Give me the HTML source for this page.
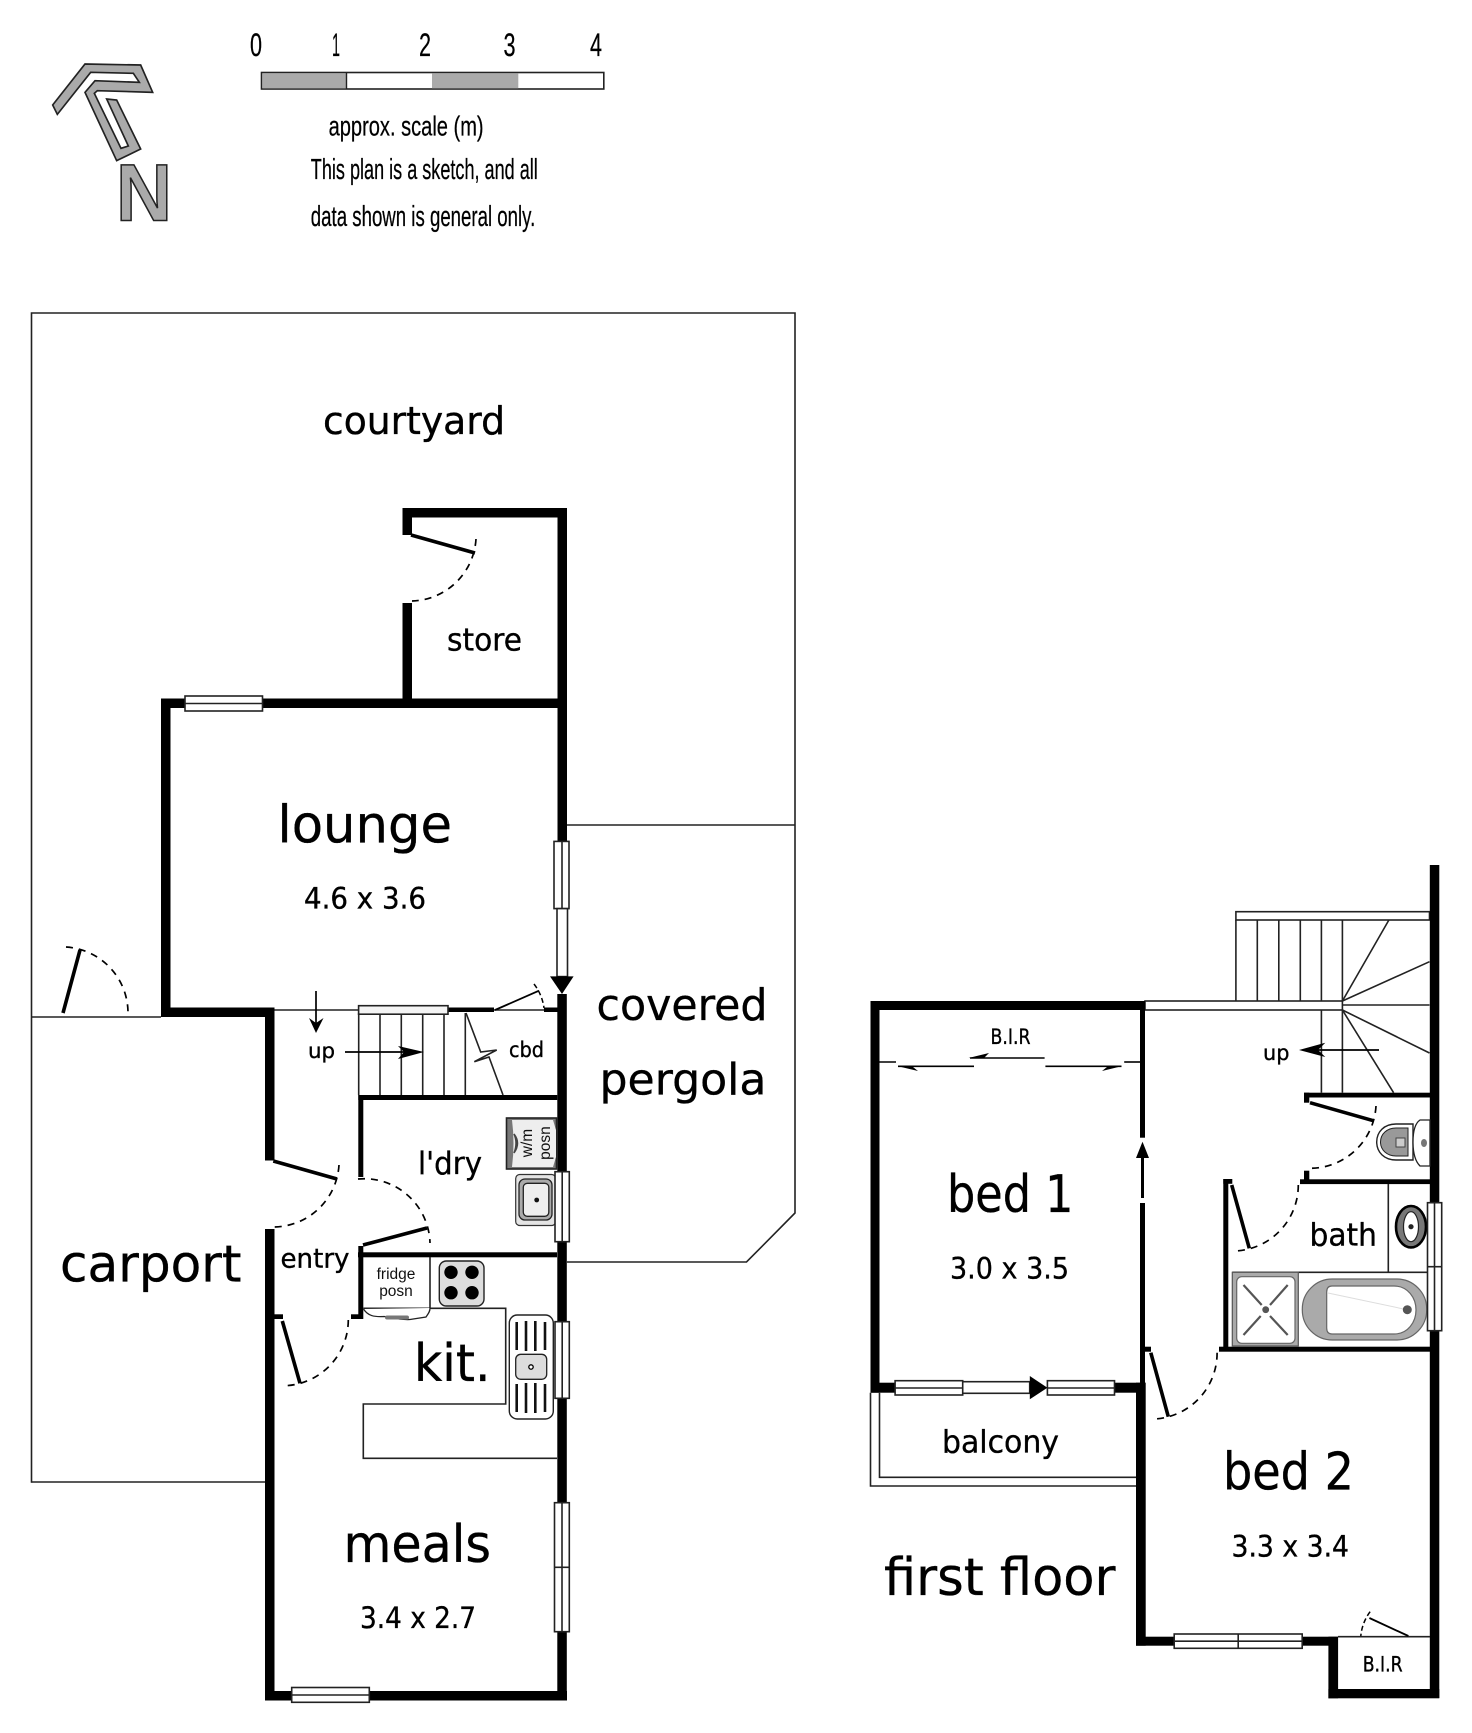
<!DOCTYPE html>
<html lang="en">
<head>
<meta charset="utf-8">
<title>Floor plan</title>
<style>
html,body{margin:0;padding:0;background:#fff;width:1472px;height:1733px;overflow:hidden}
svg{display:block}
.t{font-family:"DejaVu Sans","Liberation Sans",sans-serif;fill:#000;stroke:#000;stroke-width:.35}
.c{font-family:"Liberation Sans",sans-serif;fill:#000;stroke:#000;stroke-width:.25}
.f{font-family:"Liberation Sans",sans-serif;fill:#111}
.l{stroke:#222;stroke-width:1.6;fill:none}
.w{fill:#fff;stroke:#222;stroke-width:1.6}
.d{stroke:#000;stroke-width:1.7;fill:none;stroke-dasharray:7 6}
.leaf{stroke:#000;stroke-width:3.6;fill:none}
</style>
</head>
<body>
<svg xmlns="http://www.w3.org/2000/svg" width="1472" height="1733" viewBox="0 0 1472 1733">
<rect width="1472" height="1733" fill="#fff"/>

<!-- north -->
<g transform="translate(40,50) scale(.33333)">
<polygon points="38,165 135,42 302,45 338,127 172,122 163,130 243,295 265,288 200,147 230,150 302,297 230,332 135,127 165,92 298,97 280,70 152,67 52,193" fill="#aaa" stroke="#222" stroke-width="5" stroke-linejoin="miter"/>
</g>
<text x="116" y="220.5" font-family="Liberation Sans,sans-serif" font-weight="bold" font-size="81" textLength="56" lengthAdjust="spacingAndGlyphs" fill="#aaa" stroke="#222" stroke-width="1.6">N</text>

<!-- scale -->
<rect x="261.5" y="72.5" width="342.3" height="16.5" fill="#fff" stroke="#222" stroke-width="1.6"/>
<rect x="262.3" y="73.3" width="84.2" height="15" fill="#aaa"/>
<rect x="432" y="73.3" width="86.3" height="15" fill="#aaa"/>
<line x1="346.5" y1="72.5" x2="346.5" y2="89" stroke="#222" stroke-width="1.4"/>
<text class="c" x="250" y="56" font-size="32" textLength="12" lengthAdjust="spacingAndGlyphs">0</text>
<text class="c" x="332" y="56" font-size="32" textLength="8" lengthAdjust="spacingAndGlyphs">1</text>
<text class="c" x="419" y="56" font-size="32" textLength="12" lengthAdjust="spacingAndGlyphs">2</text>
<text class="c" x="503.5" y="56" font-size="32" textLength="12" lengthAdjust="spacingAndGlyphs">3</text>
<text class="c" x="590" y="56" font-size="32" textLength="12" lengthAdjust="spacingAndGlyphs">4</text>
<text class="c" x="328.6" y="135.5" font-size="28" textLength="155" lengthAdjust="spacingAndGlyphs">approx. scale (m)</text>
<text class="c" x="310.8" y="179" font-size="29" textLength="227" lengthAdjust="spacingAndGlyphs">This plan is a sketch, and all</text>
<text class="c" x="310.8" y="226" font-size="29" textLength="224.5" lengthAdjust="spacingAndGlyphs">data shown is general only.</text>

<!-- site outlines -->
<polyline class="l" points="31.5,1482.8 31.5,313 795,313 795,1213 746.5,1262 567,1262"/>
<line class="l" x1="567" y1="825" x2="795" y2="825"/>
<line class="l" x1="31.5" y1="1017" x2="161" y2="1017"/>
<line class="l" x1="31.5" y1="1482" x2="265" y2="1482"/>

<!-- ground floor walls -->
<g fill="#000">
<rect x="402.5" y="508" width="164.5" height="9.5"/>
<rect x="402.5" y="508" width="9.5" height="27"/>
<rect x="402.5" y="603" width="9.5" height="97"/>
<rect x="557.5" y="508" width="9.5" height="333"/>
<rect x="161" y="698.5" width="406" height="9.5"/>
<rect x="161" y="698.5" width="9.5" height="318.5"/>
<rect x="161" y="1007.5" width="113.5" height="9.5"/>
<rect x="265" y="1007.5" width="9.5" height="153"/>
<rect x="265" y="1229" width="9.5" height="471"/>
<rect x="265" y="1691" width="302" height="9.5"/>
<rect x="557.3" y="994" width="9.5" height="706"/>
<rect x="358.3" y="1095" width="199" height="5"/>
<rect x="358.3" y="1095" width="5" height="82"/>
<rect x="358" y="1252.3" width="199" height="5"/>
<rect x="358.3" y="1246" width="5" height="73"/>
<rect x="351" y="1314.3" width="12" height="4.7"/>
<rect x="274" y="1314.3" width="9" height="4.7"/>
<rect x="448" y="1007.5" width="46" height="4.5"/>
<rect x="544" y="1007.5" width="14" height="4.5"/>
</g>

<!-- ground floor thin lines -->
<line class="l" x1="274.5" y1="1010" x2="359" y2="1010"/>
<line class="l" x1="494" y1="1010" x2="544" y2="1010"/>
<g class="l">
<line x1="358.7" y1="1013" x2="358.7" y2="1095"/>
<line x1="380" y1="1013" x2="380" y2="1095"/>
<line x1="401.3" y1="1013" x2="401.3" y2="1095"/>
<line x1="422.7" y1="1013" x2="422.7" y2="1095"/>
<line x1="444" y1="1013" x2="444" y2="1095"/>
<line x1="465.3" y1="1013" x2="465.3" y2="1095"/>
</g>
<polyline class="l" points="466,1013 480.7,1052 496.7,1050 474.3,1061.7 489,1057 503,1095"/>

<!-- kitchen -->
<polyline class="l" points="363.3,1308.3 505.7,1308.3 505.7,1404 363.3,1404 363.3,1458.3 557,1458.3"/>
<line class="l" x1="430" y1="1257" x2="430" y2="1308"/>
<path d="M363.5,1309 C368,1316 374,1317 384,1316.5 C392,1317 396,1320 410,1319.5 L426,1317 C428,1314 430,1312 430,1308" fill="#fff" stroke="#222" stroke-width="1.3"/>
<rect x="385" y="1315.5" width="24" height="4" rx="2" fill="#777"/>
<rect x="439.3" y="1261" width="44.7" height="45" rx="7" fill="#ddd" stroke="#222" stroke-width="1.4"/>
<g fill="#000">
<circle cx="451" cy="1272.3" r="6.7"/><circle cx="472" cy="1272.3" r="6.7"/>
<circle cx="451" cy="1292.7" r="6.7"/><circle cx="472" cy="1292.7" r="6.7"/>
</g>
<rect x="509.3" y="1315" width="44" height="104" rx="8" fill="#fff" stroke="#222" stroke-width="1.4"/>
<g stroke="#111" stroke-width="2.6">
<line x1="516.7" y1="1322" x2="516.7" y2="1350"/><line x1="526" y1="1321" x2="526" y2="1351"/><line x1="535.3" y1="1321" x2="535.3" y2="1351"/><line x1="545" y1="1322" x2="545" y2="1350"/>
<line x1="516.7" y1="1384" x2="516.7" y2="1412"/><line x1="526" y1="1383" x2="526" y2="1413"/><line x1="535.3" y1="1383" x2="535.3" y2="1413"/><line x1="545" y1="1384" x2="545" y2="1412"/>
</g>
<rect x="515.7" y="1354.3" width="31" height="25" rx="5" fill="#ddd" stroke="#222" stroke-width="1.3"/>
<circle cx="531" cy="1367" r="2.2" fill="#fff" stroke="#000" stroke-width="1.3"/>

<!-- washing machine -->
<rect x="506.5" y="1118" width="50" height="51" fill="#777" stroke="#222" stroke-width="1.6"/>
<path d="M512,1120 H553 L556,1130 V1157 L553,1167 H512 Q515,1143 512,1120Z" fill="#eee"/>
<path d="M514,1134 Q521,1143 514,1153 Q518,1143 514,1134Z" fill="#666" stroke="#444" stroke-width="1.5"/>
<text class="f" font-size="15.5" text-anchor="middle" transform="translate(532,1143) rotate(-90)">w/m</text>
<text class="f" font-size="15.5" text-anchor="middle" transform="translate(550,1143) rotate(-90)">posn</text>

<!-- laundry sink -->
<rect x="515.7" y="1174.5" width="40" height="51" rx="4" fill="#e4e4e4" stroke="#333" stroke-width="1.2"/>
<rect x="519" y="1179" width="33" height="41" rx="6" fill="#aaa" stroke="#222" stroke-width="1.3"/>
<rect x="523.3" y="1183.3" width="25.5" height="33" rx="4" fill="#eee" stroke="#222" stroke-width="1.3"/>
<circle cx="536.7" cy="1200" r="2.4" fill="#111"/>

<!-- ground windows -->
<rect class="w" x="185" y="696" width="77.5" height="15"/><line class="l" x1="185" y1="703.5" x2="262.5" y2="703.5"/>
<rect class="w" x="554" y="841.4" width="15" height="67.2"/><line class="l" x1="562" y1="841.4" x2="562" y2="908.6"/>
<rect class="w" x="557" y="908.6" width="10.5" height="68"/>
<polygon points="550,976.4 573.6,976.4 562,994" fill="#000"/>
<rect class="w" x="358.6" y="1005.7" width="89.4" height="8.5" style="fill:#f4f4f4"/>
<rect class="w" x="555" y="1171.7" width="14.3" height="70"/><line class="l" x1="562.2" y1="1171.7" x2="562.2" y2="1241.7"/>
<rect class="w" x="555" y="1321.7" width="14.3" height="76.6"/><line class="l" x1="562.2" y1="1321.7" x2="562.2" y2="1398.3"/>
<rect class="w" x="554.5" y="1502.7" width="14.8" height="129"/><line class="l" x1="562" y1="1502.7" x2="562" y2="1631.7"/><line class="l" x1="554.5" y1="1567.3" x2="569.3" y2="1567.3"/>
<rect class="w" x="291.7" y="1687.5" width="77.6" height="14.8"/><line class="l" x1="291.7" y1="1695" x2="369.3" y2="1695"/>

<!-- ground doors -->
<line class="leaf" x1="411" y1="535" x2="475" y2="553"/>
<path class="d" d="M476,539 A66,66 0 0 1 412,601"/>
<line class="leaf" x1="63" y1="1013" x2="80" y2="950"/>
<path class="d" d="M66,947 A66,66 0 0 1 128,1013"/>
<line class="leaf" x1="273.3" y1="1161" x2="337" y2="1179"/>
<path class="d" d="M339,1165 A66,66 0 0 1 273,1227"/>
<line class="leaf" x1="363" y1="1245" x2="427" y2="1228"/>
<path class="d" d="M358,1179 A66,66 0 0 1 430,1243"/>
<line class="leaf" x1="282.3" y1="1321" x2="300" y2="1383.3"/>
<path class="d" d="M348.3,1320 A66,66 0 0 1 286,1385.7"/>
<line x1="495" y1="1010" x2="539" y2="990.7" stroke="#000" stroke-width="1.8"/>
<path d="M534,984 A50,50 0 0 1 544,1008" fill="none" stroke="#000" stroke-width="1.5" stroke-dasharray="5 3"/>

<!-- ground arrows -->
<line x1="316" y1="991" x2="316" y2="1025" stroke="#000" stroke-width="1.7"/>
<polygon points="309,1018 316,1023 323.5,1018 316,1033" fill="#000"/>
<line x1="345" y1="1052" x2="420" y2="1052" stroke="#000" stroke-width="1.7"/>
<polygon points="398,1046 424,1052 398,1059 404,1052" fill="#000"/>

<!-- ground labels -->
<text class="t" x="323" y="434" font-size="38" textLength="182" lengthAdjust="spacingAndGlyphs">courtyard</text>
<text class="t" x="447" y="650.5" font-size="31" textLength="75" lengthAdjust="spacingAndGlyphs">store</text>
<text class="t" x="277.5" y="842.5" font-size="52" textLength="174.5" lengthAdjust="spacingAndGlyphs">lounge</text>
<text class="t" x="304" y="908.5" font-size="29" textLength="122" lengthAdjust="spacingAndGlyphs">4.6 x 3.6</text>
<text class="t" x="596.5" y="1020" font-size="44" textLength="171" lengthAdjust="spacingAndGlyphs">covered</text>
<text class="t" x="599.5" y="1094.6" font-size="44" textLength="167" lengthAdjust="spacingAndGlyphs">pergola</text>
<text class="t" x="308" y="1058" font-size="21" textLength="27" lengthAdjust="spacingAndGlyphs">up</text>
<text class="t" x="509" y="1057" font-size="21" textLength="35" lengthAdjust="spacingAndGlyphs">cbd</text>
<text class="t" x="418" y="1174" font-size="31" textLength="64" lengthAdjust="spacingAndGlyphs">l'dry</text>
<text class="t" x="60" y="1281.7" font-size="51" textLength="181.5" lengthAdjust="spacingAndGlyphs">carport</text>
<text class="t" x="280.5" y="1267.3" font-size="27" textLength="69" lengthAdjust="spacingAndGlyphs">entry</text>
<text class="t" x="414" y="1381" font-size="52" textLength="76.5" lengthAdjust="spacingAndGlyphs">kit.</text>
<text class="f" x="396" y="1279" font-size="15.5" text-anchor="middle">fridge</text>
<text class="f" x="396" y="1296" font-size="15.5" text-anchor="middle">posn</text>
<text class="t" x="343.5" y="1562" font-size="52" textLength="147.5" lengthAdjust="spacingAndGlyphs">meals</text>
<text class="t" x="360" y="1628" font-size="29" textLength="116" lengthAdjust="spacingAndGlyphs">3.4 x 2.7</text>

<!-- first floor stairs -->
<rect class="w" x="1235.9" y="911.7" width="193.6" height="8.3"/>
<g class="l">
<line x1="1235.9" y1="920" x2="1235.9" y2="1001"/>
<line x1="1257.3" y1="920" x2="1257.3" y2="1001"/>
<line x1="1278.8" y1="920" x2="1278.8" y2="1001"/>
<line x1="1300.3" y1="920" x2="1300.3" y2="1001"/>
<line x1="1321.4" y1="920" x2="1321.4" y2="1001"/>
<line x1="1342.4" y1="920" x2="1342.4" y2="1001"/>
<line x1="1342.4" y1="1001" x2="1388.9" y2="920"/>
<line x1="1342.4" y1="1001" x2="1429.5" y2="961.7"/>
<line x1="1342.4" y1="1005" x2="1429.5" y2="1005"/>
<line x1="1342.4" y1="1010" x2="1429.5" y2="1053"/>
<line x1="1342.4" y1="1010" x2="1393.6" y2="1092.7"/>
<line x1="1321.4" y1="1010" x2="1321.4" y2="1092.7"/>
<line x1="1342.4" y1="1010" x2="1342.4" y2="1092.7"/>
</g>
<rect class="w" x="1145" y="1001" width="197.4" height="9"/>

<!-- first floor walls -->
<g fill="#000">
<rect x="1429.8" y="865" width="9.5" height="833"/>
<rect x="870.5" y="1001" width="274.5" height="9"/>
<rect x="870.5" y="1001" width="9" height="391.7"/>
<rect x="1140" y="1001" width="5" height="136.7"/>
<rect x="1140" y="1203" width="5" height="180"/>
<rect x="870.5" y="1382.7" width="25" height="10"/>
<rect x="1114.5" y="1382.7" width="31" height="10"/>
<rect x="1136" y="1382.7" width="9.7" height="263"/>
<rect x="1136" y="1636.7" width="202" height="9"/>
<rect x="1328.4" y="1636.7" width="9.7" height="61.6"/>
<rect x="1328.4" y="1689" width="110.9" height="9.3"/>
<rect x="1304" y="1092.7" width="126" height="4.8"/>
<rect x="1304" y="1092.7" width="5.3" height="10"/>
<rect x="1304" y="1170.7" width="5.3" height="9"/>
<rect x="1300" y="1179.3" width="130" height="4.8"/>
<rect x="1223.3" y="1179" width="5" height="170"/>
<rect x="1223.3" y="1179" width="9" height="4.8"/>
<rect x="1219" y="1346.7" width="211" height="5"/>
<rect x="1145" y="1346.7" width="6" height="5"/>
</g>
<line class="l" x1="1338" y1="1636.7" x2="1430" y2="1636.7"/>
<line class="l" x1="1388.3" y1="1184" x2="1388.3" y2="1272.3"/>
<line class="l" x1="1232.3" y1="1272.3" x2="1428" y2="1272.3"/>
<line x1="1142.5" y1="1158" x2="1142.5" y2="1198" stroke="#000" stroke-width="3"/>
<polygon points="1142.5,1141.7 1149,1158 1136,1158" fill="#000"/>

<!-- wardrobe tracks -->
<g stroke="#000" stroke-width="1.6" fill="none">
<line x1="879.5" y1="1062" x2="896" y2="1062"/>
<line x1="1124.2" y1="1062" x2="1140" y2="1062"/>
<line x1="970" y1="1058" x2="1044.6" y2="1058"/>
<line x1="898" y1="1066.3" x2="974" y2="1066.3"/>
<line x1="1045.4" y1="1066.3" x2="1121.5" y2="1066.3"/>
</g>
<polygon points="968.5,1058 989,1053 984,1058" fill="#000"/>
<polygon points="898,1066.3 918,1071 912,1066.3" fill="#000"/>
<polygon points="1121.5,1066.3 1102,1071 1108,1066.3" fill="#000"/>
<text class="t" x="990.5" y="1044" font-size="21" textLength="40" lengthAdjust="spacingAndGlyphs">B.I.R</text>

<!-- up arrow first floor -->
<text class="t" x="1263" y="1060" font-size="21" textLength="26.5" lengthAdjust="spacingAndGlyphs">up</text>
<line x1="1318" y1="1050" x2="1379" y2="1050" stroke="#000" stroke-width="1.7"/>
<polygon points="1299,1050 1325.3,1042.7 1318,1050 1325.3,1057" fill="#000"/>

<!-- first floor doors -->
<line class="leaf" x1="1310" y1="1102.7" x2="1373.3" y2="1120.7"/>
<path class="d" d="M1376,1106 A66,66 0 0 1 1310,1168.3"/>
<line class="leaf" x1="1231.7" y1="1185" x2="1249.3" y2="1248.3"/>
<path class="d" d="M1298.3,1185 A66,66 0 0 1 1235,1251"/>
<line class="leaf" x1="1150.8" y1="1352.7" x2="1168.3" y2="1416.7"/>
<path class="d" d="M1217.1,1352.7 A66,66 0 0 1 1153.9,1419"/>
<line x1="1408.4" y1="1636" x2="1369.4" y2="1618" stroke="#000" stroke-width="1.8"/>
<path d="M1370.1,1611.7 A48,48 0 0 0 1360.8,1636" fill="none" stroke="#000" stroke-width="1.5" stroke-dasharray="5 3"/>

<!-- toilet -->
<path d="M1413,1124 H1396 C1384,1124 1376.7,1132 1376.7,1142 C1376.7,1152 1384,1160 1396,1160 H1413Z" fill="#fff" stroke="#222" stroke-width="1.4"/>
<path d="M1408,1128 H1396 C1387,1128 1380.5,1134 1380.5,1142 C1380.5,1150 1387,1156 1396,1156 H1408Z" fill="#999" stroke="#222" stroke-width="1"/>
<rect x="1396" y="1138" width="9" height="9" fill="#ccc" stroke="#444" stroke-width="1"/>
<path d="M1430,1120 H1420 C1414,1124 1413,1134 1413,1142 C1413,1150 1414,1160 1420,1166 H1430Z" fill="#fff" stroke="#222" stroke-width="1.3"/>
<ellipse cx="1424" cy="1143" rx="3" ry="4" fill="#777"/>

<!-- basin -->
<ellipse cx="1411" cy="1226.7" rx="15" ry="20.7" fill="#777" stroke="#000" stroke-width="2.6"/>
<ellipse cx="1411" cy="1226.7" rx="7.5" ry="15" fill="#fff" stroke="#222" stroke-width="1.2"/>
<circle cx="1411" cy="1226.7" r="2.6" fill="#222"/>

<!-- shower -->
<rect x="1232.3" y="1272.3" width="66" height="73.7" fill="#aaa" stroke="#555" stroke-width="1.2"/>
<rect x="1236.7" y="1276.7" width="58.3" height="66.6" rx="5" fill="#fff" stroke="#666" stroke-width="1.2"/>
<g stroke="#555" stroke-width="2.2">
<line x1="1243.5" y1="1285" x2="1261.7" y2="1305"/>
<line x1="1287.7" y1="1285" x2="1270" y2="1305"/>
<line x1="1243.5" y1="1335" x2="1260.7" y2="1316"/>
<line x1="1287.7" y1="1335" x2="1270" y2="1316"/>
</g>
<circle cx="1265.7" cy="1309.7" r="3.4" fill="#555"/>

<!-- bath -->
<rect x="1302.3" y="1279" width="124.4" height="61" rx="30" fill="#aaa" stroke="#666" stroke-width="1.2"/>
<path d="M1332,1286 H1394 C1408,1286 1416,1298 1416,1310 C1416,1322 1408,1334 1394,1334 H1332 Q1326.7,1334 1326.7,1328 V1292 Q1326.7,1286 1332,1286Z" fill="#fff" stroke="#666" stroke-width="1.2"/>
<line x1="1328" y1="1293" x2="1407" y2="1309.7" stroke="#ddd" stroke-width="1"/>
<circle cx="1407.3" cy="1309.7" r="4.5" fill="#555"/>

<!-- first floor windows -->
<rect class="w" x="1427.5" y="1202.7" width="14.2" height="128"/><line class="l" x1="1434.5" y1="1202.7" x2="1434.5" y2="1330.7"/><line class="l" x1="1427.5" y1="1266.7" x2="1441.7" y2="1266.7"/>
<rect class="w" x="962.7" y="1381.7" width="67" height="11.6"/>
<rect class="w" x="895.1" y="1380.7" width="67.6" height="14.3"/><line class="l" x1="895.1" y1="1388" x2="962.7" y2="1388"/>
<rect class="w" x="1047.4" y="1380.7" width="67.1" height="14.3"/><line class="l" x1="1047.4" y1="1388" x2="1114.5" y2="1388"/>
<polygon points="1029.8,1376 1047.4,1387.7 1029.8,1399.3" fill="#000"/>
<rect class="w" x="1174.2" y="1634" width="128" height="14.3"/><line class="l" x1="1174.2" y1="1641.2" x2="1302.2" y2="1641.2"/><line class="l" x1="1238.2" y1="1634" x2="1238.2" y2="1648.3"/>

<!-- balcony -->
<polyline class="l" points="870.5,1392.7 870.5,1486 1136,1486"/>
<polyline class="l" points="879.5,1392.7 879.5,1477.3 1136,1477.3"/>

<!-- first floor labels -->
<text class="t" x="947" y="1212" font-size="52" textLength="126.5" lengthAdjust="spacingAndGlyphs">bed 1</text>
<text class="t" x="950" y="1278.5" font-size="29" textLength="119" lengthAdjust="spacingAndGlyphs">3.0 x 3.5</text>
<text class="t" x="1309.5" y="1245.7" font-size="31" textLength="67.5" lengthAdjust="spacingAndGlyphs">bath</text>
<text class="t" x="942" y="1452.7" font-size="31" textLength="117" lengthAdjust="spacingAndGlyphs">balcony</text>
<text class="t" x="1223" y="1489.3" font-size="52" textLength="131" lengthAdjust="spacingAndGlyphs">bed 2</text>
<text class="t" x="1231.5" y="1556.7" font-size="29" textLength="117.5" lengthAdjust="spacingAndGlyphs">3.3 x 3.4</text>
<text class="t" x="884" y="1595" font-size="52" textLength="231.5" lengthAdjust="spacingAndGlyphs">first floor</text>
<text class="t" x="1362.7" y="1671.7" font-size="21" textLength="40" lengthAdjust="spacingAndGlyphs">B.I.R</text>
</svg>
</body>
</html>
